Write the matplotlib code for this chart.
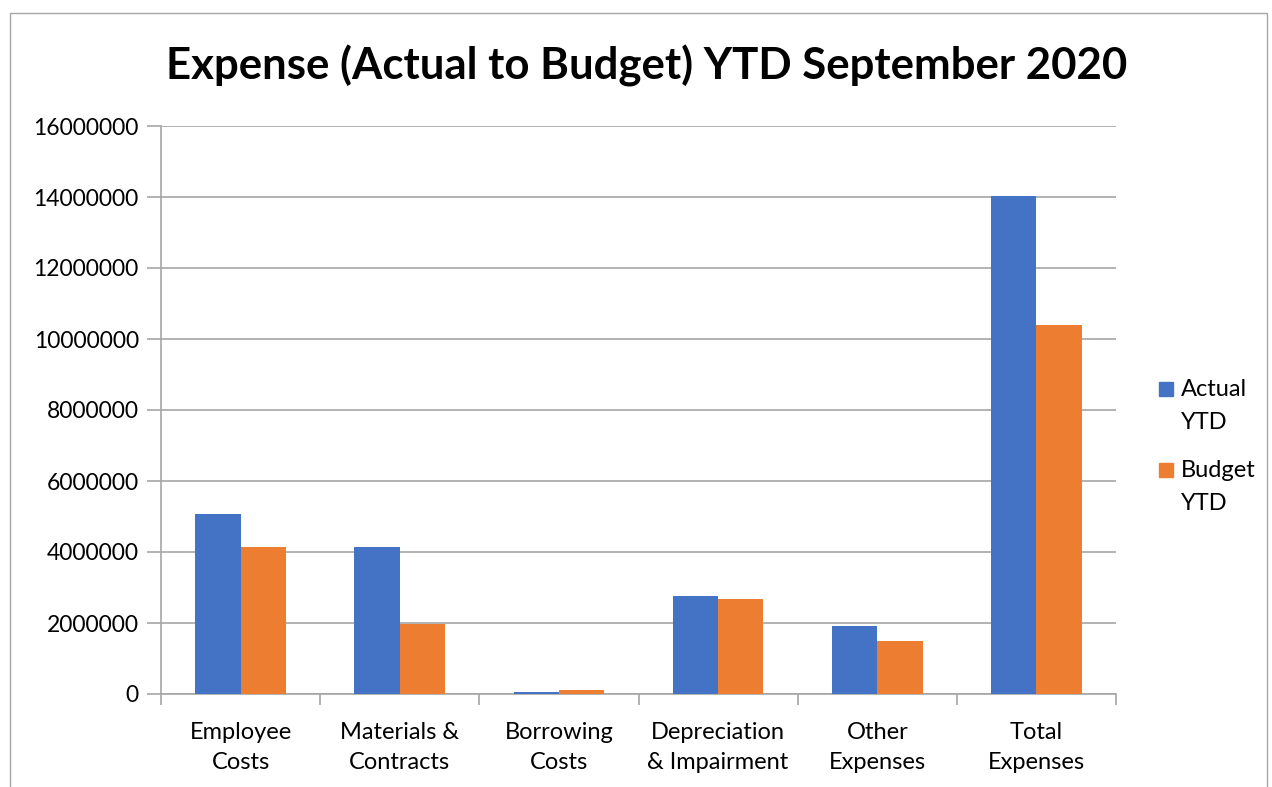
import numpy as np
import matplotlib.pyplot as plt
from matplotlib.patches import Rectangle

categories = ['Employee\nCosts', 'Materials &\nContracts', 'Borrowing\nCosts',
              'Depreciation\n& Impairment', 'Other\nExpenses', 'Total\nExpenses']
actual_ytd = [5060000, 4150000, 50000, 2750000, 1920000, 14020000]
budget_ytd = [4150000, 1970000, 120000, 2680000, 1490000, 10400000]
series_labels = ['Actual\nYTD', 'Budget\nYTD']
series_colors = ['#4472C4', '#ED7D31']
yticks = [0, 2000000, 4000000, 6000000, 8000000, 10000000, 12000000, 14000000, 16000000]

plt.rcParams['font.family'] = ['Lato', 'DejaVu Sans']

W, H = 1272, 787
fig = plt.figure(figsize=(W / 100, H / 100), dpi=100)
# outer chart frame
fig.patches.append(Rectangle((10 / W, -0.01), 1257 / W, 1 - 13 / H + 0.01,
                             transform=fig.transFigure, fill=False,
                             edgecolor='#A6A6A6', linewidth=1))

ax = fig.add_axes([161 / W, 1 - 694 / H, (1116 - 161) / W, (694 - 126) / H])

x = np.arange(len(categories))
w = 0.285
ax.bar(x - w / 2, actual_ytd, w, color=series_colors[0], label=series_labels[0], zorder=3)
ax.bar(x + w / 2, budget_ytd, w, color=series_colors[1], label=series_labels[1], zorder=3)

ax.set_xlim(-0.5, len(categories) - 0.5)
ax.set_ylim(0, 16000000)
ax.set_yticks(yticks)
ax.set_yticklabels([str(v) for v in yticks], fontsize=16.5)
ax.yaxis.grid(True, color='#A6A6A6', linewidth=1.2, zorder=0)

ax.set_xticks(x)
ax.set_xticklabels(categories, fontsize=17, linespacing=1.55)
ax.set_xticks(np.arange(len(categories) + 1) - 0.5, minor=True)
ax.tick_params(axis='x', which='major', length=0, pad=20)
ax.tick_params(axis='x', which='minor', length=8, color='#A6A6A6', width=1.2)
ax.tick_params(axis='y', length=10, color='#A6A6A6', width=1.2, pad=6)

for side in ['top', 'right']:
    ax.spines[side].set_visible(False)
for side in ['left', 'bottom']:
    ax.spines[side].set_color('#A6A6A6')
    ax.spines[side].set_linewidth(1.2)

fig.suptitle('Expense (Actual to Budget) YTD September 2020', fontsize=31.5,
             fontweight='bold', x=0.508, y=0.943)

# legend: square next to the first line of each wrapped label
for i, (lab, col) in enumerate(zip(series_labels, series_colors)):
    top = 382 + i * 81
    fig.patches.append(Rectangle((1159 / W, 1 - (top + 14) / H), 14 / W, 14 / H,
                                 transform=fig.transFigure, color=col))
    for j, line in enumerate(lab.split('\n')):
        fig.text(1181 / W, 1 - (top + 14 + j * 33) / H, line, fontsize=17,
                 va='baseline', ha='left')

fig.savefig('out.png', dpi=100)
